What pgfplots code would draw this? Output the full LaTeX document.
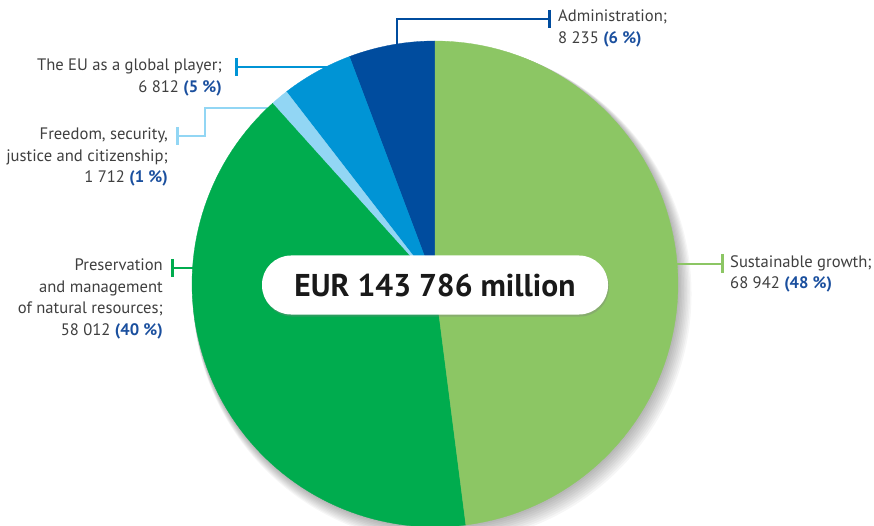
\documentclass[border=0pt]{standalone}
\usepackage{fontspec}
\setmainfont{PT Sans}
\usepackage{pgfplots}
\usepackage{pgfplotstable}
\pgfplotsset{compat=1.18}
\usetikzlibrary{shadows}

\definecolor{cSus}{HTML}{8CC664}
\definecolor{cPre}{HTML}{00AC4E}
\definecolor{cFre}{HTML}{92D6F4}
\definecolor{cGlo}{HTML}{0094D5}
\definecolor{cAdm}{HTML}{004C9E}
\definecolor{txt}{HTML}{3F3F3F}
\definecolor{num}{HTML}{1A4F9E}

% EUR million
\pgfplotstableread{
name         value
sustainable  68942
preservation 58012
freedom      1712
global       6812
admin        8235
}\budget

\pgfplotstablegetelem{0}{value}\of\budget\edef\vSus{\pgfplotsretval}
\pgfplotstablegetelem{1}{value}\of\budget\edef\vPre{\pgfplotsretval}
\pgfplotstablegetelem{2}{value}\of\budget\edef\vFre{\pgfplotsretval}
\pgfplotstablegetelem{3}{value}\of\budget\edef\vGlo{\pgfplotsretval}
\pgfplotstablegetelem{4}{value}\of\budget\edef\vAdm{\pgfplotsretval}
\edef\vTot{\fpeval{\vSus+\vPre+\vFre+\vGlo+\vAdm}}
% slice edges, counter-clockwise from the top
\edef\aA{\fpeval{round(90+360*\vAdm/\vTot,4)}}
\edef\aB{\fpeval{round(\aA+360*\vGlo/\vTot,4)}}
\edef\aC{\fpeval{round(\aB+360*\vFre/\vTot,4)}}
\edef\aD{\fpeval{round(\aC+360*\vPre/\vTot,4)}}

\def\cx{435}\def\cy{284}\def\R{243}

\newcommand\slice[3]{%
  \addplot[draw=#1, line width=0.3pt, fill=#1, domain=#2:#3, samples=80, variable=\t]
    ({\cx+\R*cos(\t)},{\cy-\R*sin(\t)}) -- (axis cs:\cx,\cy) -- cycle;}

\tikzset{lbl/.style={inner sep=0pt, text=txt, font=\fontsize{16.6}{21.5}\selectfont}}

\begin{document}
\begin{tikzpicture}
\useasboundingbox (0,0) rectangle (874pt,526pt);
\clip (0,0) rectangle (874pt,526pt);
\begin{axis}[
  at={(0,0)}, anchor=south west,
  width=874pt, height=526pt, scale only axis,
  xmin=0, xmax=874, ymin=0, ymax=526, y dir=reverse,
  axis lines=none, clip=false,
]
  % soft shadow
  \pgfplotsinvokeforeach{1,...,9}{
    \fill[black, opacity=0.035] (axis cs:\cx+#1*0.8,\cy+#1*1.1) circle[radius={(\R+#1*0.7)*1pt}];
  }
  % leader lines
  \draw[cAdm, line width=1.3pt] (axis cs:397,48) |- (axis cs:549,19);
  \draw[cAdm, line width=3pt] (axis cs:549,10) -- (axis cs:549,28);
  \draw[cGlo, line width=1.3pt] (axis cs:336,67) -- (axis cs:236,67);
  \draw[cGlo, line width=3pt] (axis cs:236,58) -- (axis cs:236,76);
  \draw[cFre, line width=1.3pt] (axis cs:270,108) -- (axis cs:205,108) -- (axis cs:205,136) -- (axis cs:177,136);
  \draw[cFre, line width=3pt] (axis cs:177,127) -- (axis cs:177,145);
  \draw[cPre, line width=1.3pt] (axis cs:195,268) -- (axis cs:172,268);
  \draw[cPre, line width=3pt] (axis cs:172,259) -- (axis cs:172,277);
  \draw[cSus, line width=1.3pt] (axis cs:674,264) -- (axis cs:722,264);
  \draw[cSus, line width=3pt] (axis cs:722,254) -- (axis cs:722,273);

  \slice{cAdm}{90}{\aA}
  \slice{cGlo}{\aA}{\aB}
  \slice{cFre}{\aB}{\aC}
  \slice{cPre}{\aC}{\aD}
  \slice{cSus}{\aD}{450}

  \node[fill=white, rounded corners=29pt, minimum width=346pt, minimum height=59pt,
        inner sep=0pt, text=black!90,
        drop shadow={shadow xshift=1pt, shadow yshift=-2pt, opacity=0.35},
        font=\fontsize{31.5}{34}\selectfont\bfseries] at (axis cs:435,285) {EUR 143 786 million};

  \node[lbl, anchor=north west, align=left] at (axis cs:558,10)
    {Administration;\\8 235 \textcolor{num}{\textbf{(6 \%)}}};
  \node[lbl, anchor=north east, align=right] at (axis cs:222,59)
    {The EU as a global player;\\6 812 \textcolor{num}{\textbf{(5 \%)}}};
  \node[lbl, anchor=north east, align=right] at (axis cs:168,128)
    {Freedom, security,\\justice and citizenship;\\1 712 \textcolor{num}{\textbf{(1 \%)}}};
  \node[lbl, anchor=north east, align=right] at (axis cs:163,259)
    {Preservation\\and management\\of natural resources;\\58 012 \textcolor{num}{\textbf{(40 \%)}}};
  \node[lbl, anchor=north west, align=left] at (axis cs:730,255)
    {Sustainable growth;\\68 942 \textcolor{num}{\textbf{(48 \%)}}};
\end{axis}
\end{tikzpicture}
\end{document}
